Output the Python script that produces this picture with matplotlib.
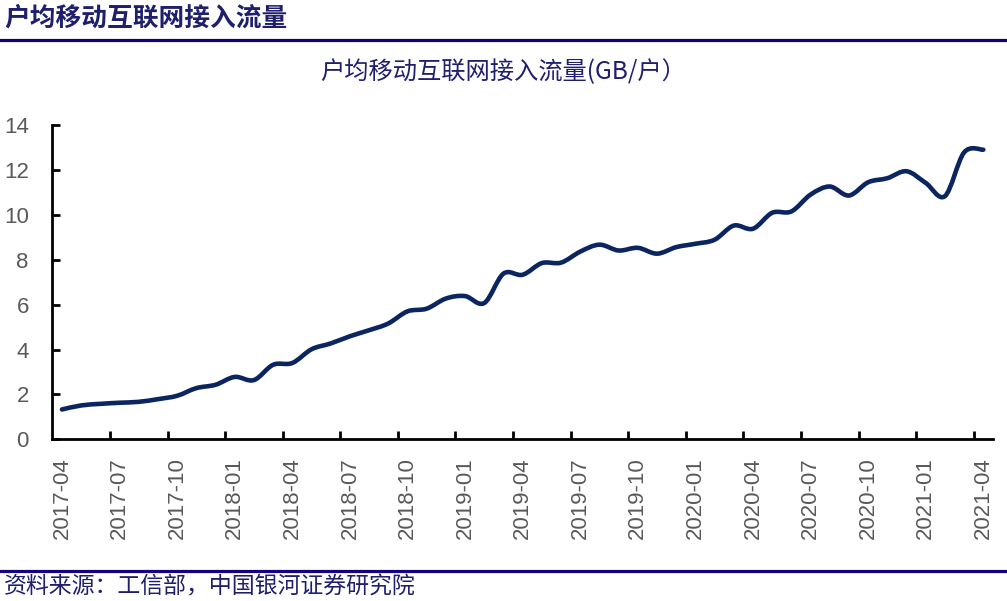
import matplotlib.pyplot as plt
import numpy as np
from matplotlib.path import Path
from matplotlib.patches import PathPatch
from matplotlib.lines import Line2D

plt.rcParams['font.family'] = ['Noto Sans CJK SC', 'DejaVu Sans']

# 户均移动互联网接入流量 (GB/户), 2017-04 .. 2021-04, monthly
months = ['2017-04', '2017-05', '2017-06', '2017-07', '2017-08', '2017-09',
          '2017-10', '2017-11', '2017-12', '2018-01', '2018-02', '2018-03',
          '2018-04', '2018-05', '2018-06', '2018-07', '2018-08', '2018-09',
          '2018-10', '2018-11', '2018-12', '2019-01', '2019-02', '2019-03',
          '2019-04', '2019-05', '2019-06', '2019-07', '2019-08', '2019-09',
          '2019-10', '2019-11', '2019-12', '2020-01', '2020-02', '2020-03',
          '2020-04', '2020-05', '2020-06', '2020-07', '2020-08', '2020-09',
          '2020-10', '2020-11', '2020-12', '2021-01', '2021-02', '2021-03',
          '2021-04']
traffic = [1.33, 1.51, 1.58, 1.63, 1.67, 1.79, 1.94, 2.28, 2.43, 2.78,
           2.64, 3.32, 3.40, 4.01, 4.27, 4.59, 4.86, 5.16, 5.70, 5.82,
           6.27, 6.38, 6.07, 7.38, 7.33, 7.85, 7.87, 8.36, 8.67, 8.41,
           8.53, 8.27, 8.56, 8.71, 8.89, 9.52, 9.38, 10.09, 10.15, 10.90,
           11.26, 10.86, 11.45, 11.63, 11.94, 11.42, 10.83, 12.78, 12.90]
label_every = 3

navy = '#14007F'
line_color = '#0B2560'

fig = plt.figure(figsize=(10.07, 6.01), dpi=100)
ax = fig.add_axes([0.052, 0.269, 0.934, 0.523])

# smoothed line like Excel (bezier through every point)
x = np.arange(len(traffic), dtype=float)
y = np.array(traffic)
verts = [(x[0], y[0])]
codes = [Path.MOVETO]
n = len(x)
for i in range(n - 1):
    p0 = (x[max(i - 1, 0)], y[max(i - 1, 0)])
    p1 = (x[i], y[i])
    p2 = (x[i + 1], y[i + 1])
    p3 = (x[min(i + 2, n - 1)], y[min(i + 2, n - 1)])
    c1 = (p1[0] + (p2[0] - p0[0]) / 6, p1[1] + (p2[1] - p0[1]) / 6)
    c2 = (p2[0] - (p3[0] - p1[0]) / 6, p2[1] - (p3[1] - p1[1]) / 6)
    verts += [c1, c2, p2]
    codes += [Path.CURVE4] * 3
ax.add_patch(PathPatch(Path(verts, codes), facecolor='none', edgecolor=line_color,
                       linewidth=3.3, capstyle='round', joinstyle='round'))

ax.set_xlim(-0.5, len(traffic) - 0.5)
ax.set_ylim(0, 14)
ax.set_yticks(np.arange(0, 15, 2))

# ticks on category borders, labels at category centres
ax.set_xticks(np.arange(label_every - 0.5, len(traffic) - 0.5, label_every))
ax.set_xticklabels([])
lab_pos = np.arange(0, len(traffic), label_every)
ax.set_xticks(lab_pos, minor=True)
ax.set_xticklabels([months[i] for i in lab_pos], minor=True, rotation=90,
                   fontsize=16, color='#595959', family='Liberation Sans')
ax.tick_params(axis='x', which='minor', length=0, pad=13)
ax.tick_params(axis='x', which='major', direction='in', length=6, width=2)
ax.tick_params(axis='y', direction='in', length=6, width=2, pad=17,
               labelsize=16, labelcolor='#595959')
for lab in ax.get_yticklabels():
    lab.set_family('Liberation Sans')

for s in ['top', 'right']:
    ax.spines[s].set_visible(False)
for s in ['left', 'bottom']:
    ax.spines[s].set_linewidth(2)

fig.text(0.5, 1 - 72 / 601, '户均移动互联网接入流量(GB/户）', ha='center', va='center',
         fontsize=17.5, color='#1F1F6E')
fig.text(0.004, 1 - 18 / 601, '户均移动互联网接入流量', ha='left', va='center',
         fontsize=18.5, fontweight='bold', color='#1F1F6E')
fig.add_artist(Line2D([0, 1], [1 - 40 / 601] * 2, color=navy, linewidth=2.3))
fig.add_artist(Line2D([0, 1], [1 - 571 / 601] * 2, color=navy, linewidth=2.3))
fig.text(0.004, 1 - 587 / 601, '资料来源：工信部，中国银河证券研究院', ha='left', va='center',
         fontsize=16.5, color='#1F1F6E')

fig.savefig('out.png', dpi=100)
